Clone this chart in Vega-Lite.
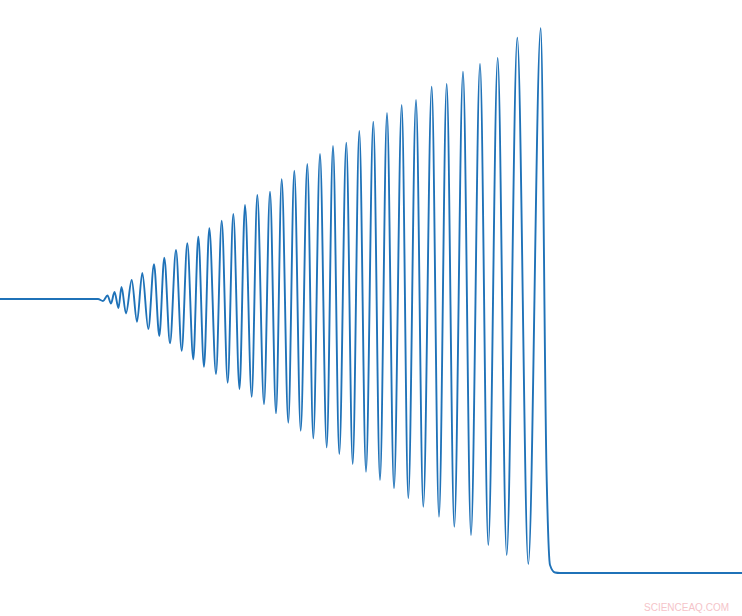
{
  "$schema": "https://vega.github.io/schema/vega-lite/v6.json",
  "width": 742,
  "height": 616,
  "autosize": {"type": "none"},
  "padding": 0,
  "background": "white",
  "config": {"view": {"stroke": null}},
  "layer": [
    {
      "data": {
        "values": [
          {"t": 0, "v": 0}, {"t": 98, "v": 0}, {"t": 103, "v": -2},
          {"t": 107.5, "v": 3.5}, {"t": 111, "v": -4.5}, {"t": 114.5, "v": 7},
          {"t": 118.5, "v": -9}, {"t": 121.5, "v": 12}, {"t": 126, "v": -14.5},
          {"t": 131.7, "v": 19}, {"t": 137, "v": -22.7}, {"t": 142.3, "v": 26},
          {"t": 148.3, "v": -30}, {"t": 154, "v": 34.7}, {"t": 159.3, "v": -37},
          {"t": 164.3, "v": 41.3}, {"t": 170, "v": -44.3}, {"t": 176, "v": 49},
          {"t": 181.7, "v": -51.7}, {"t": 187.3, "v": 55.7}, {"t": 193.3, "v": -60.3},
          {"t": 198.3, "v": 62.3}, {"t": 204, "v": -67.7}, {"t": 209.3, "v": 70.7},
          {"t": 216, "v": -75}, {"t": 221.7, "v": 78.3}, {"t": 227.7, "v": -83.7},
          {"t": 233.3, "v": 85}, {"t": 239.5, "v": -90}, {"t": 245, "v": 94},
          {"t": 251.7, "v": -97.7}, {"t": 257.3, "v": 104}, {"t": 264, "v": -105.3},
          {"t": 270, "v": 107.3}, {"t": 276, "v": -114.3}, {"t": 281.7, "v": 119.7},
          {"t": 288.3, "v": -123.7}, {"t": 294.3, "v": 128.3}, {"t": 300.7, "v": -131.7},
          {"t": 307.3, "v": 135}, {"t": 313.3, "v": -139.3}, {"t": 320, "v": 145},
          {"t": 326.7, "v": -148.3}, {"t": 333, "v": 153}, {"t": 339.3, "v": -155},
          {"t": 346.3, "v": 156.3}, {"t": 352.7, "v": -165}, {"t": 359.3, "v": 168},
          {"t": 366, "v": -172.7}, {"t": 373.3, "v": 177.3}, {"t": 380, "v": -181},
          {"t": 387, "v": 186}, {"t": 394, "v": -189.3}, {"t": 401.7, "v": 194},
          {"t": 408.3, "v": -199.3}, {"t": 416, "v": 199}, {"t": 423.3, "v": -207.7},
          {"t": 431.7, "v": 212.3}, {"t": 439, "v": -217.7}, {"t": 446.7, "v": 215},
          {"t": 454.3, "v": -227.7}, {"t": 463, "v": 227.3}, {"t": 471, "v": -236},
          {"t": 480, "v": 235}, {"t": 488.3, "v": -246}, {"t": 497.7, "v": 241},
          {"t": 506.7, "v": -256}, {"t": 517.3, "v": 261.3}, {"t": 528.3, "v": -265},
          {"t": 540.7, "v": 270.7}, {"t": 546.5, "v": -171}, {"t": 550, "v": -266},
          {"t": 555, "v": -273.5}, {"t": 560, "v": -274}, {"t": 742, "v": -274}
        ]
      },
      "mark": {"type": "line", "interpolate": "monotone", "color": "#1f72b8", "strokeWidth": 1.9},
      "encoding": {
        "x": {"field": "t", "type": "quantitative", "scale": {"domain": [0, 742], "nice": false, "zero": false}, "axis": null},
        "y": {"field": "v", "type": "quantitative", "scale": {"domain": [-317, 299], "nice": false, "zero": false}, "axis": null}
      }
    },
    {
      "data": {"values": [{"t": 686.5, "v": -308.5, "label": "SCIENCEAQ.COM"}]},
      "mark": {"type": "text", "color": "#f5c4c9", "font": "Liberation Sans", "fontSize": 10, "align": "center", "baseline": "middle"},
      "encoding": {
        "x": {"field": "t", "type": "quantitative"},
        "y": {"field": "v", "type": "quantitative"},
        "text": {"field": "label"}
      }
    }
  ]
}
